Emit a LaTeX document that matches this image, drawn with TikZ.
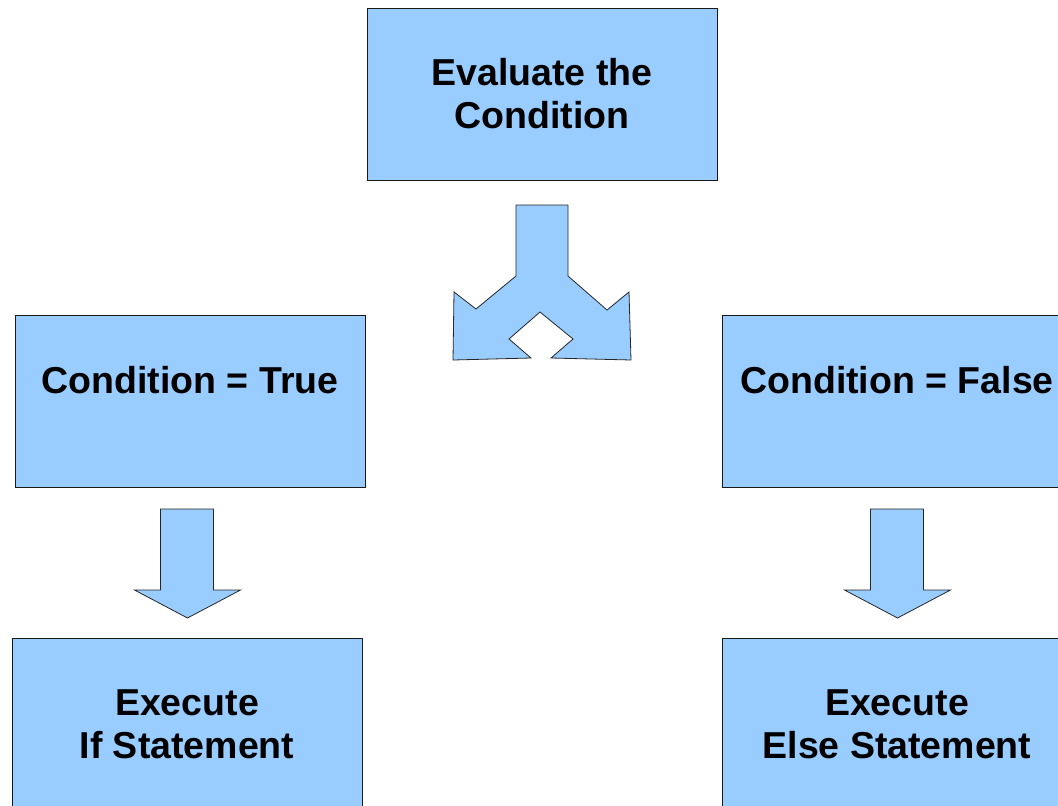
\documentclass[tikz,border=0pt]{standalone}
\usepackage{fontspec}
\setmainfont{Liberation Sans}
\usepackage{tikz}
\definecolor{boxblue}{HTML}{99CCFF}

% block arrow pointing down, tip at the given point
\newcommand\blockdown[1]{%
  \filldraw[blockarrow] (#1) ++(-26.5,-109) -- ++(53,0) -- ++(0,81)
    -- ++(27,0) -- ++(-53,28) -- ++(-53,-28) -- ++(26,0) -- cycle;}

\begin{document}
\begin{tikzpicture}[
            x=1pt,y=-1pt,
            stepbox/.style={
            draw=black!90,
            fill=boxblue,
            line width=0.9pt,
            minimum width=350pt,
            minimum height=172pt,
            align=center,
            font=\fontsize{37.5}{43}\selectfont\bfseries
            },
            blockarrow/.style={draw=black!85,fill=boxblue,line width=0.8pt,line join=miter}
            ]
            \useasboundingbox (0,0) rectangle (1058,806);
            \node[stepbox] (eval) at (542,94) {Evaluate the\\Condition};
            \node[stepbox] (true) at (190,401) {Condition = True\\~};
            \node[stepbox] (false) at (897,401) {Condition = False\\~};
            \node[stepbox] (doif) at (187,724) {Execute\\If Statement};
            \node[stepbox] (doelse) at (897,724) {Execute\\Else Statement};
            % split arrow under the condition
            \filldraw[blockarrow] (516,205) -- (568,205) -- (568,276) -- (607,310)
              -- (629,292) -- (631,360) -- (551,358) -- (573,339) -- (540,312)
              -- (509,339) -- (531,358) -- (453,360) -- (454,292) -- (476,309)
              -- (516,276) -- cycle;
            \coordinate (iftip) at (187,618);
            \coordinate (elsetip) at (897,618);
            \blockdown{iftip}
            \blockdown{elsetip}
        \end{tikzpicture}
\end{document}
